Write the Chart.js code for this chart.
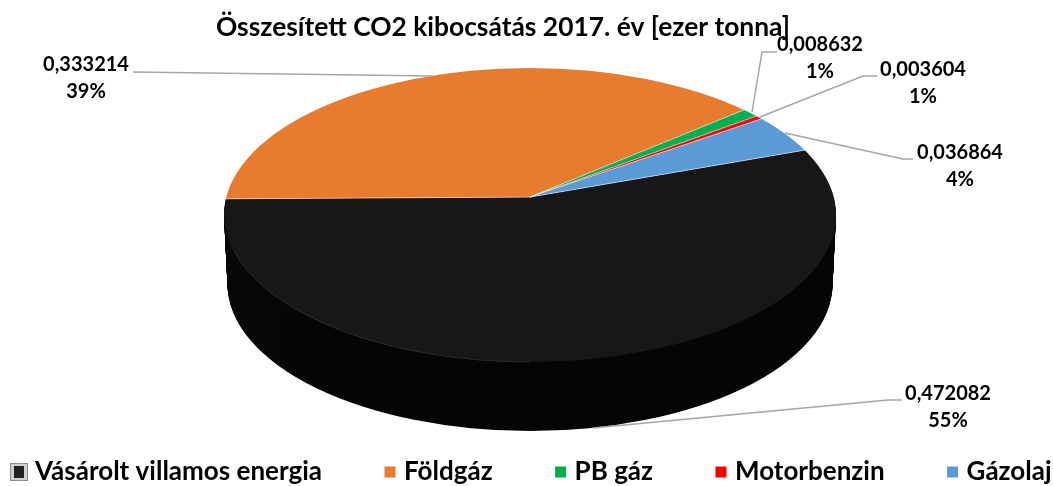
<!DOCTYPE html>
<html>
<head>
<meta charset="utf-8">
<script src="https://cdn.jsdelivr.net/npm/chart.js@4/dist/chart.umd.js"></script>
<style>
  html, body { margin: 0; padding: 0; background: #fff; }
  canvas { display: block; }
</style>
</head>
<body>
<canvas id="pie" width="1053" height="486"></canvas>
<script>
const categories = ['Vásárolt villamos energia', 'Földgáz', 'PB gáz', 'Motorbenzin', 'Gázolaj'];
const values = [0.472082, 0.333214, 0.008632, 0.003604, 0.036864];
const percents = ['55%', '39%', '1%', '1%', '4%'];
const colors = ['#171717', '#E97B2F', '#00B050', '#FF0000', '#5B9BD5'];
const chartTitle = 'Összesített CO2 kibocsátás 2017. év [ezer tonna]';

// the pie is tilted, so the apex sits above the middle of the rim ellipse
const apex = { x: 530, y: 197 };
const rim = { x: 530, y: 215, rx: 306, ry: 147 };
const tilt = 0.48;
const depth = 69;

// label centre, then leader line running from the slice out to the label
const labelSpots = [
  { x: 948, y: 394, line: [[593, 428], [888, 400], [902, 400]] },
  { x: 86, y: 65, line: [[433, 76], [133, 72]] },
  { x: 820, y: 45, line: [[752, 112], [762, 52], [777, 52]] },
  { x: 923, y: 70, line: [[760, 117], [863, 76], [877, 76]] },
  { x: 960, y: 153, line: [[785, 133], [903, 159], [913, 159]] }
];

Chart.defaults.font.family = 'Lato';

// little boxed icon the first legend entry has (blank strip on the right centres it)
const makeIcon = () => {
  const c = document.createElement('canvas');
  c.width = 22;
  c.height = 18;
  const g = c.getContext('2d');
  g.fillStyle = '#8c8c8c';
  g.fillRect(0, 0, 18, 18);
  g.fillStyle = '#d0d0d0';
  g.fillRect(1, 1, 16, 16);
  g.fillStyle = '#222';
  g.fillRect(4, 3, 10, 12);
  return c;
};
const firstIcon = makeIcon();

const clipRim = (ctx, off, shrink) => {
  ctx.beginPath();
  ctx.ellipse(rim.x, rim.y + off, rim.rx - shrink, rim.ry, 0, 0, Math.PI * 2);
  ctx.clip();
};

const pieTilt = {
  id: 'pieTilt',
  afterLayout(chart) {
    // title and legend do not sit on the canvas centre in the original
    const t = chart.titleBlock;
    t.left = 216;
    t.right = 790;
    t.top = 12;
    const l = chart.legend;
    const pad = l.options.labels.padding;
    l.left = 20 - pad;
    l.right = 1400;
    l.top = 459 - pad;
    l.bottom = 486;
  },
  beforeDatasetsDraw(chart) {
    const ctx = chart.ctx;
    const el = chart.getDatasetMeta(0).data[0];
    const shift = (off) => {
      ctx.translate(apex.x, apex.y + off);
      ctx.scale(1, tilt);
      ctx.translate(-el.x, -el.y);
    };

    // side wall: the black slice repeated downwards, one pixel a layer
    const wall = ctx.createLinearGradient(-rim.rx, 0, rim.rx, 0);
    wall.addColorStop(0, '#131313');
    wall.addColorStop(0.5, '#0e0e0e');
    wall.addColorStop(1, '#050505');
    const keep = el.options;
    el.options = Object.assign({}, keep, { backgroundColor: wall, borderWidth: 0 });
    for (let d = depth; d > 0; d--) {
      ctx.save();
      clipRim(ctx, d, d * 0.05);
      shift(d);
      el.draw(ctx);
      ctx.restore();
    }
    el.options = keep;

    ctx.save();
    clipRim(ctx, 0, 0);
    shift(0);
  },
  afterDatasetsDraw(chart) {
    const ctx = chart.ctx;
    ctx.restore();

    // faint highlight on the front rim
    ctx.save();
    ctx.strokeStyle = '#2b2b2b';
    ctx.lineWidth = 1;
    ctx.beginPath();
    ctx.ellipse(rim.x, rim.y, rim.rx - 1, rim.ry, 0, Math.PI * 0.5, Math.PI * 0.92);
    ctx.stroke();
    ctx.restore();
  },
  afterDraw(chart) {
    const ctx = chart.ctx;
    ctx.save();
    ctx.strokeStyle = '#A6A6A6';
    ctx.lineWidth = 1.5;
    ctx.fillStyle = '#000';
    ctx.textAlign = 'center';
    ctx.textBaseline = 'middle';
    ctx.font = 'bold 20px Lato';
    labelSpots.forEach((s, i) => {
      ctx.beginPath();
      s.line.forEach((p, j) => (j ? ctx.lineTo(p[0], p[1]) : ctx.moveTo(p[0], p[1])));
      ctx.stroke();
      ctx.fillText(String(values[i]).replace('.', ','), s.x, s.y);
      ctx.fillText(percents[i], s.x, s.y + 27);
    });
    ctx.restore();
  }
};

new Chart('pie', {
  type: 'pie',
  data: {
    labels: categories,
    datasets: [{
      data: values,
      backgroundColor: colors,
      borderColor: 'rgba(255,255,255,0.55)',
      borderWidth: 1,
      clip: false
    }]
  },
  options: {
    responsive: false,
    animation: false,
    rotation: 70.4,
    radius: 380,
    layout: { padding: 0 },
    plugins: {
      tooltip: { enabled: false },
      title: {
        display: true,
        text: chartTitle,
        color: '#000',
        padding: 0,
        font: { size: 26.5, weight: 'bold' }
      },
      legend: {
        position: 'bottom',
        align: 'start',
        labels: {
          color: '#000',
          padding: 67,
          boxWidth: 2,
          boxHeight: 11,
          usePointStyle: true,
          font: { size: 26, weight: 'bold' },
          generateLabels: () => categories.map((name, i) => ({
            text: name,
            fillStyle: colors[i],
            strokeStyle: colors[i],
            lineWidth: 0,
            pointStyle: i === 0 ? firstIcon : 'rect',
            index: i
          }))
        }
      }
    }
  },
  plugins: [pieTilt]
});
</script>
</body>
</html>
